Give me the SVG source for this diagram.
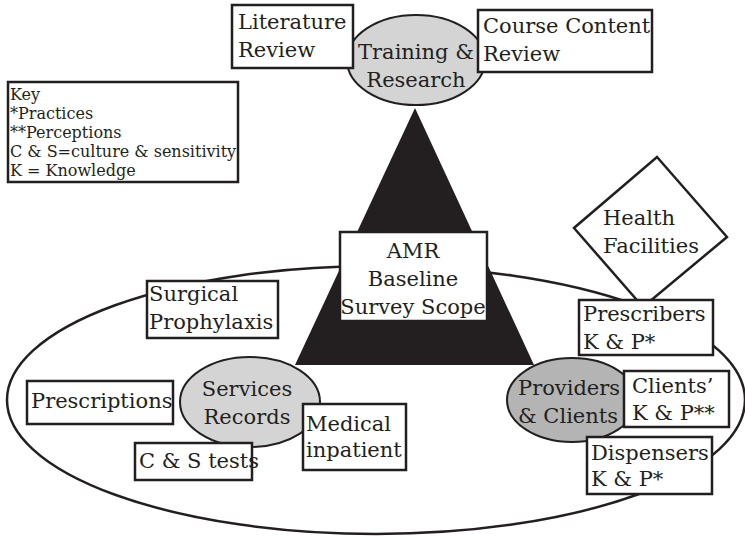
<svg xmlns="http://www.w3.org/2000/svg" width="745" height="536" viewBox="0 0 745 536">
<style>
text{font-family:'DejaVu Serif',serif;font-size:21px;fill:#231f20}
.key{font-size:16px}
.c{text-anchor:middle}
.box{fill:#fff;stroke:#231f20;stroke-width:2.5}
.ell{stroke:#231f20;stroke-width:2}
.lt{fill:#d4d4d4}
.dk{fill:#b4b4b4}
</style>
<rect width="745" height="536" fill="#fff"/>
<g id="connectors">
<ellipse id="scope-ring" cx="376" cy="400" rx="369" ry="134" fill="none" stroke="#231f20" stroke-width="2.5"/>
<polygon id="pyramid" points="415,108 295,365 534,365" fill="#231f20"/>
</g>
<g id="training">
<ellipse class="ell lt" cx="416" cy="60" rx="69" ry="45"/>
<text class="c" x="416" y="59">Training &amp;</text>
<text class="c" x="416" y="87">Research</text>
</g>
<g id="literature">
<rect class="box" x="232" y="5" width="121" height="63"/>
<text x="238" y="29">Literature</text>
<text x="238" y="57">Review</text>
</g>
<g id="course">
<rect class="box" x="478" y="10" width="174" height="62"/>
<text x="483" y="33">Course Content</text>
<text x="483" y="61">Review</text>
</g>
<g id="key">
<rect class="box" x="8" y="82" width="230" height="100"/>
<text class="key" x="10" y="100">Key</text>
<text class="key" x="10" y="119">*Practices</text>
<text class="key" x="10" y="138">**Perceptions</text>
<text class="key" x="10" y="157">C &amp; S=culture &amp; sensitivity</text>
<text class="key" x="10" y="176">K = Knowledge</text>
</g>
<g id="amr">
<rect class="box" x="340" y="232" width="147" height="89"/>
<text class="c" x="413" y="258">AMR</text>
<text class="c" x="413" y="286">Baseline</text>
<text class="c" x="413" y="314">Survey Scope</text>
</g>
<g id="health-facilities">
<polygon points="657,157 727,237 643,307 574,228" fill="#fff" stroke="#231f20" stroke-width="2.5"/>
<text x="603" y="225">Health</text>
<text x="603" y="253">Facilities</text>
</g>
<g id="surgical">
<rect class="box" x="147" y="281" width="131" height="57"/>
<text x="149" y="301">Surgical</text>
<text x="149" y="329">Prophylaxis</text>
</g>
<g id="services">
<ellipse class="ell lt" cx="250" cy="402" rx="70" ry="45"/>
<text class="c" x="247" y="396">Services</text>
<text class="c" x="247" y="424">Records</text>
</g>
<g id="prescriptions">
<rect class="box" x="27" y="381" width="146" height="43"/>
<text x="31" y="408">Prescriptions</text>
</g>
<g id="cs-tests">
<rect class="box" x="135" y="443" width="117" height="37"/>
<text x="139" y="468">C &amp; S tests</text>
</g>
<g id="medical">
<rect class="box" x="303" y="404" width="103" height="66"/>
<text x="306" y="431">Medical</text>
<text x="306" y="457">inpatient</text>
</g>
<g id="providers">
<ellipse class="ell dk" cx="572" cy="400" rx="65" ry="42"/>
<text x="518" y="395">Providers</text>
<text x="518" y="423">&amp; Clients</text>
</g>
<g id="prescribers">
<rect class="box" x="579" y="300" width="134" height="55"/>
<text x="583" y="321">Prescribers</text>
<text x="583" y="349">K &amp; P*</text>
</g>
<g id="clients">
<rect class="box" x="624" y="371" width="105" height="56"/>
<text x="632" y="393">Clients’</text>
<text x="632" y="420">K &amp; P**</text>
</g>
<g id="dispensers">
<rect class="box" x="587" y="437" width="125" height="57"/>
<text x="591" y="460">Dispensers</text>
<text x="591" y="486">K &amp; P*</text>
</g>
</svg>
